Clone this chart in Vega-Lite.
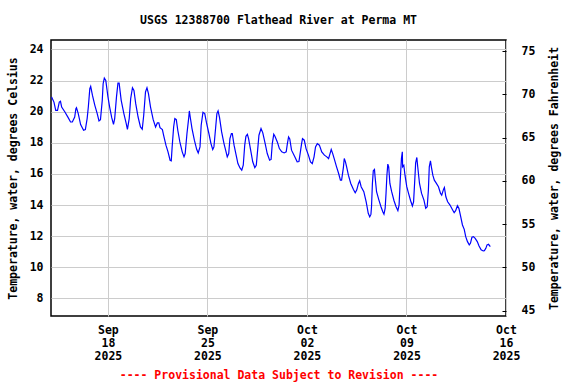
{
 "$schema": "https://vega.github.io/schema/vega-lite/v6.json",
 "width": 455,
 "height": 276,
 "autosize": "none",
 "padding": {"left": 51, "top": 40, "right": 70, "bottom": 68},
 "background": "white",
 "config": {"font": "DejaVu Sans Mono", "view": {"stroke": "black", "strokeWidth": 1.5}},
 "title": {"text": "USGS 12388700 Flathead River at Perma MT", "fontSize": 11.5, "fontWeight": "bold", "font": "DejaVu Sans Mono", "color": "black", "anchor": "middle", "offset": 14},
 "data": {"values": [
{"t":"2025-09-14T01:00","v":20.94},{"t":"2025-09-14T05:00","v":20.62},{"t":"2025-09-14T08:00","v":20.09},{"t":"2025-09-14T11:00","v":20.09},{"t":"2025-09-14T14:00","v":20.62},{"t":"2025-09-14T16:00","v":20.67},{"t":"2025-09-14T18:00","v":20.30},{"t":"2025-09-14T23:30","v":19.98},
{"t":"2025-09-15T05:00","v":19.62},{"t":"2025-09-15T09:00","v":19.34},{"t":"2025-09-15T12:00","v":19.34},{"t":"2025-09-15T16:00","v":19.66},{"t":"2025-09-15T18:00","v":20.20},{"t":"2025-09-15T19:00","v":20.26},{"t":"2025-09-15T22:00","v":19.88},
{"t":"2025-09-16T02:00","v":19.17},{"t":"2025-09-16T07:00","v":18.81},{"t":"2025-09-16T10:00","v":18.85},{"t":"2025-09-16T13:00","v":19.56},{"t":"2025-09-16T15:00","v":20.30},{"t":"2025-09-16T17:30","v":21.48},{"t":"2025-09-16T19:00","v":21.63},{"t":"2025-09-16T22:00","v":21.05},
{"t":"2025-09-17T02:00","v":20.41},{"t":"2025-09-17T06:00","v":19.88},{"t":"2025-09-17T09:00","v":19.41},{"t":"2025-09-17T11:30","v":19.49},{"t":"2025-09-17T14:30","v":20.73},{"t":"2025-09-17T16:00","v":21.80},{"t":"2025-09-17T18:00","v":22.16},{"t":"2025-09-17T20:30","v":22.01},
{"t":"2025-09-18T00:00","v":20.99},{"t":"2025-09-18T03:00","v":20.30},{"t":"2025-09-18T06:30","v":19.62},{"t":"2025-09-18T09:30","v":19.19},{"t":"2025-09-18T11:30","v":19.56},{"t":"2025-09-18T14:30","v":20.94},{"t":"2025-09-18T17:00","v":21.84},{"t":"2025-09-18T19:00","v":21.84},{"t":"2025-09-18T22:30","v":20.73},
{"t":"2025-09-19T03:00","v":19.88},{"t":"2025-09-19T07:00","v":19.24},{"t":"2025-09-19T09:00","v":18.87},{"t":"2025-09-19T12:00","v":19.56},{"t":"2025-09-19T14:30","v":20.84},{"t":"2025-09-19T17:30","v":21.54},{"t":"2025-09-19T20:00","v":21.37},{"t":"2025-09-19T23:00","v":20.52},
{"t":"2025-09-20T03:00","v":19.66},{"t":"2025-09-20T07:00","v":19.02},{"t":"2025-09-20T10:00","v":18.87},{"t":"2025-09-20T12:30","v":19.77},{"t":"2025-09-20T15:30","v":21.27},{"t":"2025-09-20T18:00","v":21.54},{"t":"2025-09-20T20:30","v":21.16},
{"t":"2025-09-21T00:00","v":20.30},{"t":"2025-09-21T04:30","v":19.49},{"t":"2025-09-21T08:30","v":19.02},{"t":"2025-09-21T11:30","v":19.28},{"t":"2025-09-21T14:00","v":19.28},{"t":"2025-09-21T16:00","v":18.98},{"t":"2025-09-21T20:00","v":18.85},{"t":"2025-09-21T22:30","v":18.42},
{"t":"2025-09-22T02:00","v":17.85},{"t":"2025-09-22T05:30","v":17.42},{"t":"2025-09-22T09:00","v":16.88},{"t":"2025-09-22T11:00","v":16.84},{"t":"2025-09-22T12:30","v":17.74},{"t":"2025-09-22T15:00","v":19.02},{"t":"2025-09-22T17:00","v":19.56},{"t":"2025-09-22T19:30","v":19.49},{"t":"2025-09-22T22:00","v":18.81},
{"t":"2025-09-23T01:30","v":18.06},{"t":"2025-09-23T05:30","v":17.42},{"t":"2025-09-23T08:30","v":17.10},{"t":"2025-09-23T10:30","v":17.31},{"t":"2025-09-23T13:30","v":18.60},{"t":"2025-09-23T16:30","v":19.62},{"t":"2025-09-23T17:30","v":20.05},{"t":"2025-09-23T19:00","v":19.66},{"t":"2025-09-23T22:00","v":18.92},
{"t":"2025-09-24T02:00","v":18.17},{"t":"2025-09-24T06:00","v":17.57},{"t":"2025-09-24T08:30","v":17.35},{"t":"2025-09-24T11:30","v":17.74},{"t":"2025-09-24T13:30","v":19.13},{"t":"2025-09-24T16:30","v":19.96},{"t":"2025-09-24T19:30","v":19.88},{"t":"2025-09-24T22:30","v":19.28},
{"t":"2025-09-25T02:30","v":18.60},{"t":"2025-09-25T06:00","v":17.95},{"t":"2025-09-25T09:00","v":17.57},{"t":"2025-09-25T11:00","v":17.74},{"t":"2025-09-25T14:00","v":19.02},{"t":"2025-09-25T16:00","v":19.88},{"t":"2025-09-25T18:00","v":20.05},{"t":"2025-09-25T20:30","v":19.62},
{"t":"2025-09-26T00:00","v":18.70},{"t":"2025-09-26T04:00","v":17.95},{"t":"2025-09-26T07:30","v":17.42},{"t":"2025-09-26T09:30","v":17.10},{"t":"2025-09-26T12:00","v":17.31},{"t":"2025-09-26T14:00","v":18.27},{"t":"2025-09-26T16:30","v":18.60},{"t":"2025-09-26T18:00","v":18.60},{"t":"2025-09-26T21:00","v":17.85},
{"t":"2025-09-27T00:30","v":17.21},{"t":"2025-09-27T03:30","v":16.67},{"t":"2025-09-27T07:00","v":16.39},{"t":"2025-09-27T10:00","v":16.24},{"t":"2025-09-27T12:30","v":16.56},{"t":"2025-09-27T15:00","v":17.85},{"t":"2025-09-27T17:00","v":18.42},{"t":"2025-09-27T19:30","v":18.55},{"t":"2025-09-27T21:30","v":18.27},
{"t":"2025-09-28T01:00","v":17.53},{"t":"2025-09-28T04:30","v":16.78},{"t":"2025-09-28T08:00","v":16.41},{"t":"2025-09-28T10:30","v":16.56},{"t":"2025-09-28T13:00","v":17.63},{"t":"2025-09-28T15:00","v":18.49},{"t":"2025-09-28T18:30","v":18.92},{"t":"2025-09-28T21:30","v":18.64},
{"t":"2025-09-29T01:30","v":17.95},{"t":"2025-09-29T05:00","v":17.31},{"t":"2025-09-29T09:00","v":16.88},{"t":"2025-09-29T11:30","v":16.93},{"t":"2025-09-29T13:30","v":17.95},{"t":"2025-09-29T16:00","v":18.55},{"t":"2025-09-29T18:00","v":18.42},{"t":"2025-09-29T22:00","v":18.06},
{"t":"2025-09-30T01:30","v":17.63},{"t":"2025-09-30T05:30","v":17.42},{"t":"2025-09-30T09:30","v":17.35},{"t":"2025-09-30T13:00","v":17.42},{"t":"2025-09-30T15:00","v":17.95},{"t":"2025-09-30T17:00","v":18.38},{"t":"2025-09-30T19:00","v":18.25},{"t":"2025-09-30T22:00","v":17.53},
{"t":"2025-10-01T03:30","v":17.10},{"t":"2025-10-01T07:30","v":16.78},{"t":"2025-10-01T10:30","v":16.80},{"t":"2025-10-01T12:30","v":17.31},{"t":"2025-10-01T15:00","v":17.95},{"t":"2025-10-01T16:30","v":18.27},{"t":"2025-10-01T19:30","v":18.17},{"t":"2025-10-01T22:30","v":17.63},
{"t":"2025-10-02T02:30","v":17.21},{"t":"2025-10-02T06:00","v":16.78},{"t":"2025-10-02T09:00","v":16.67},{"t":"2025-10-02T12:00","v":17.10},{"t":"2025-10-02T14:30","v":17.74},{"t":"2025-10-02T17:30","v":17.95},{"t":"2025-10-02T21:00","v":17.85},
{"t":"2025-10-03T01:00","v":17.42},{"t":"2025-10-03T05:30","v":17.21},{"t":"2025-10-03T09:30","v":17.10},{"t":"2025-10-03T12:30","v":16.99},{"t":"2025-10-03T15:00","v":17.31},{"t":"2025-10-03T17:00","v":17.57},{"t":"2025-10-03T19:30","v":17.31},{"t":"2025-10-03T22:00","v":16.99},
{"t":"2025-10-04T02:00","v":16.46},{"t":"2025-10-04T05:30","v":16.03},{"t":"2025-10-04T08:30","v":15.60},{"t":"2025-10-04T10:30","v":15.60},{"t":"2025-10-04T13:30","v":16.41},{"t":"2025-10-04T15:00","v":16.99},{"t":"2025-10-04T17:00","v":16.78},{"t":"2025-10-04T19:00","v":16.46},{"t":"2025-10-04T22:00","v":15.92},
{"t":"2025-10-05T02:00","v":15.39},{"t":"2025-10-05T06:30","v":15.00},{"t":"2025-10-05T09:30","v":14.79},{"t":"2025-10-05T12:00","v":14.96},{"t":"2025-10-05T15:00","v":15.39},{"t":"2025-10-05T17:00","v":15.56},{"t":"2025-10-05T19:30","v":15.18},
{"t":"2025-10-06T00:00","v":14.86},{"t":"2025-10-06T04:00","v":14.20},{"t":"2025-10-06T07:30","v":13.47},{"t":"2025-10-06T10:00","v":13.25},{"t":"2025-10-06T12:00","v":13.40},{"t":"2025-10-06T13:00","v":13.89},{"t":"2025-10-06T14:30","v":15.39},{"t":"2025-10-06T16:00","v":16.20},{"t":"2025-10-06T18:00","v":16.29},{"t":"2025-10-06T19:00","v":15.82},{"t":"2025-10-06T21:30","v":14.86},
{"t":"2025-10-07T01:30","v":14.32},{"t":"2025-10-07T05:00","v":13.89},{"t":"2025-10-07T08:00","v":13.57},{"t":"2025-10-07T10:00","v":13.42},{"t":"2025-10-07T12:00","v":13.79},{"t":"2025-10-07T13:30","v":14.75},{"t":"2025-10-07T15:00","v":15.92},{"t":"2025-10-07T16:30","v":16.63},{"t":"2025-10-07T18:00","v":16.46},{"t":"2025-10-07T20:00","v":15.39},{"t":"2025-10-07T23:00","v":14.86},
{"t":"2025-10-08T03:00","v":14.28},{"t":"2025-10-08T06:30","v":13.89},{"t":"2025-10-08T09:30","v":13.64},{"t":"2025-10-08T11:30","v":14.00},{"t":"2025-10-08T13:30","v":15.60},{"t":"2025-10-08T15:30","v":16.99},{"t":"2025-10-08T17:00","v":17.42},{"t":"2025-10-08T17:30","v":16.46},{"t":"2025-10-08T19:30","v":16.56},{"t":"2025-10-08T21:30","v":15.92},
{"t":"2025-10-09T00:30","v":15.18},{"t":"2025-10-09T03:30","v":14.75},{"t":"2025-10-09T07:00","v":14.28},{"t":"2025-10-09T10:00","v":13.94},{"t":"2025-10-09T12:00","v":14.21},{"t":"2025-10-09T14:00","v":15.60},{"t":"2025-10-09T15:30","v":16.71},{"t":"2025-10-09T17:30","v":17.06},{"t":"2025-10-09T19:00","v":16.46},{"t":"2025-10-09T22:00","v":15.39},
{"t":"2025-10-10T01:30","v":14.75},{"t":"2025-10-10T05:30","v":14.32},{"t":"2025-10-10T08:30","v":13.79},{"t":"2025-10-10T11:00","v":13.89},{"t":"2025-10-10T13:00","v":14.96},{"t":"2025-10-10T14:30","v":16.46},{"t":"2025-10-10T16:30","v":16.84},{"t":"2025-10-10T18:00","v":16.46},{"t":"2025-10-10T20:30","v":15.92},{"t":"2025-10-10T23:00","v":15.60},
{"t":"2025-10-11T02:00","v":15.43},{"t":"2025-10-11T06:00","v":15.18},{"t":"2025-10-11T09:30","v":14.75},{"t":"2025-10-11T11:30","v":14.64},{"t":"2025-10-11T14:30","v":15.01},{"t":"2025-10-11T16:00","v":15.13},{"t":"2025-10-11T18:30","v":14.53},{"t":"2025-10-11T21:30","v":14.21},
{"t":"2025-10-12T01:30","v":14.00},{"t":"2025-10-12T05:30","v":13.72},{"t":"2025-10-12T08:30","v":13.51},{"t":"2025-10-12T11:00","v":13.64},{"t":"2025-10-12T14:00","v":13.96},{"t":"2025-10-12T16:30","v":13.79},{"t":"2025-10-12T19:00","v":13.36},{"t":"2025-10-12T22:30","v":12.72},
{"t":"2025-10-13T01:30","v":12.44},{"t":"2025-10-13T04:00","v":11.97},{"t":"2025-10-13T07:00","v":11.65},{"t":"2025-10-13T10:00","v":11.44},{"t":"2025-10-13T12:00","v":11.54},{"t":"2025-10-13T14:30","v":11.93},{"t":"2025-10-13T17:00","v":11.97},{"t":"2025-10-13T20:00","v":11.86},{"t":"2025-10-13T23:30","v":11.65},
{"t":"2025-10-14T02:30","v":11.37},{"t":"2025-10-14T06:00","v":11.12},{"t":"2025-10-14T09:30","v":11.05},{"t":"2025-10-14T11:30","v":11.07},{"t":"2025-10-14T14:00","v":11.22},{"t":"2025-10-14T16:00","v":11.44},{"t":"2025-10-14T18:30","v":11.48},{"t":"2025-10-14T21:30","v":11.33}
 ]},
 "layer": [
  {
   "mark": {"type": "line", "color": "#0000ff", "strokeWidth": 1.2},
   "encoding": {
    "x": {"field": "t", "type": "temporal",
     "scale": {"domain": [{"year": 2025, "month": 9, "date": 14}, {"year": 2025, "month": 10, "date": 16}]},
     "axis": {"values": [{"year": 2025, "month": 9, "date": 18}, {"year": 2025, "month": 9, "date": 25}, {"year": 2025, "month": 10, "date": 2}, {"year": 2025, "month": 10, "date": 9}, {"year": 2025, "month": 10, "date": 16}],
      "labelExpr": "[timeFormat(datum.value, '%b'), timeFormat(datum.value, '%d'), timeFormat(datum.value, '%Y')]",
      "labelFont": "DejaVu Sans Mono", "labelFontWeight": "bold", "labelFontSize": 11.5, "labelColor": "black", "labelLineHeight": 13, "labelPadding": 8,
      "tickSize": 0, "domain": false, "grid": true, "gridColor": "#cccccc", "gridWidth": 1, "labelFlush": false,
      "title": "---- Provisional Data Subject to Revision ----", "titleColor": "red", "titleFont": "DejaVu Sans Mono", "titleFontSize": 11.5, "titleFontWeight": "bold", "titlePadding": 8}},
    "y": {"field": "v", "type": "quantitative",
     "scale": {"domain": [6.87, 24.61], "nice": false, "zero": false},
     "axis": {"values": [8, 10, 12, 14, 16, 18, 20, 22, 24], "grid": true, "gridColor": "#cccccc", "gridWidth": 1, "tickSize": 0, "domain": false, "labelPadding": 8,
      "labelFont": "DejaVu Sans Mono", "labelFontWeight": "bold", "labelFontSize": 11.5, "labelColor": "black",
      "title": "Temperature, water, degrees Celsius", "titleFont": "DejaVu Sans Mono", "titleFontSize": 11.5, "titleFontWeight": "bold", "titleColor": "black", "titlePadding": 11}}
   }
  },
  {
   "mark": {"type": "line", "opacity": 0},
   "encoding": {
    "x": {"field": "t", "type": "temporal"},
    "y": {"field": "v", "type": "quantitative",
     "axis": {"orient": "right", "values": [7.2222, 10, 12.7778, 15.5556, 18.3333, 21.1111, 23.8889],
      "labelExpr": "format(datum.value * 1.8 + 32, '.0f')", "grid": false, "domain": false, "tickSize": -4, "tickColor": "black", "labelPadding": 19,
      "labelFont": "DejaVu Sans Mono", "labelFontWeight": "bold", "labelFontSize": 11.5, "labelColor": "black",
      "title": "Temperature, water, degrees Fahrenheit", "titleAngle": 270, "titleFont": "DejaVu Sans Mono", "titleFontSize": 11.5, "titleFontWeight": "bold", "titleColor": "black", "titlePadding": 25}}
   }
  }
 ],
 "resolve": {"axis": {"y": "independent"}}
}
